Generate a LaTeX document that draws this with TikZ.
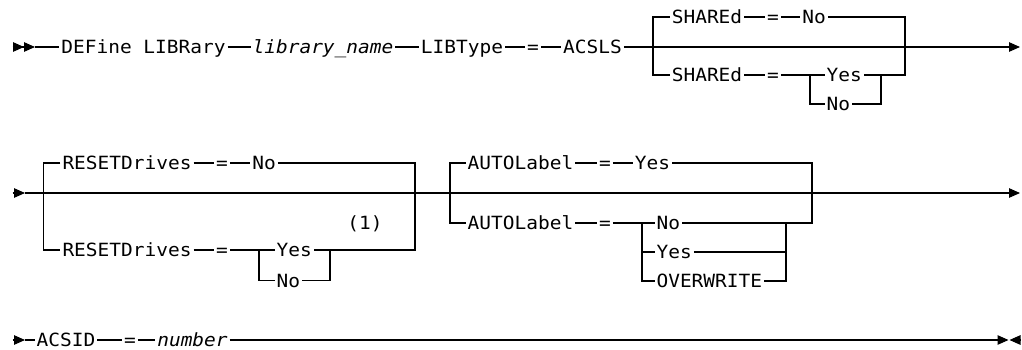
\documentclass[tikz,border=0pt]{standalone}
\usepackage{fontspec}
\newfontfamily\rrfont{DejaVu Sans Mono}[FakeStretch=1.07]
\usetikzlibrary{arrows.meta, positioning}

\tikzset{
  kw/.style={font=\rrfont\fontsize{18.2pt}{20pt}\selectfont, inner xsep=1.5pt, inner ysep=0pt, text height=13.3pt, text depth=0pt},
  var/.style={kw, font=\rrfont\itshape\fontsize{18.2pt}{20pt}\selectfont},
  rail/.style={line width=1.1pt},
  tip/.style={-{Triangle[length=11pt,width=9.5pt]}},
}

\begin{document}
\begin{tikzpicture}[x=1pt, y=-1pt, rail]
    \useasboundingbox (0,0) rectangle (1022,349);

    % First line
    \coordinate (aIn) at (12.5,47);
    \coordinate (aHead) at (35,47);
    \coordinate (aOut) at (1020,47);
    \node[kw] (define) at (143.5,47) {DEFine LIBRary};
    \node[var] (libname) at (323,47) {library\_name};
    \node[kw] (libtype) at (462,47) {LIBType};
    \node[kw] (eqType) at (533,47) {=};
    \node[kw] (acsls) at (592.5,47) {ACSLS};

    % SHAREd choice
    \coordinate (shTL) at (653,17);
    \coordinate (shBL) at (653,75);
    \coordinate (shTR) at (905,17);
    \coordinate (shBR) at (905,75);
    \node[kw] (sharedA) at (707,17) {SHAREd};
    \node[kw] (eqShA) at (773,17) {=};
    \node[kw] (shNo) at (814,17) {No};
    \node[kw] (sharedB) at (707,75) {SHAREd};
    \node[kw] (eqShB) at (773,75) {=};
    \coordinate (shIL) at (810,75);
    \coordinate (shILb) at (810,104);
    \coordinate (shIR) at (881,75);
    \coordinate (shIRb) at (881,104);
    \node[kw, anchor=west] (shYes) at (824.5,75) {Yes};
    \node[kw, anchor=west] (shNoB) at (824.5,104) {No};

    \draw[-{Triangle[length=11pt,width=9.5pt] Triangle[length=11pt,width=9.5pt]}] (aIn) -- (aHead);
    \draw (aHead) -- (define) -- (libname) -- (libtype) -- (eqType) -- (acsls);
    \draw[tip] (acsls) -- (aOut);
    \draw (sharedA) -- (shTL) -- (shBL) -- (sharedB);
    \draw (sharedA) -- (eqShA) -- (shNo) -- (shTR) -- (shBR) -- (shIR) -- (shYes);
    \draw (sharedB) -- (eqShB) -- (shIL) -- (shYes);
    \draw (shIL) -- (shILb) -- (shNoB) -- (shIRb) -- (shIR);

    % Second line
    \coordinate (bIn) at (12.5,193);
    \coordinate (bHead) at (25,193);
    \coordinate (bOut) at (1020,193);

    % RESETDrives choice
    \coordinate (rsTL) at (43.3,163);
    \coordinate (rsBL) at (43.3,250);
    \coordinate (rsTR) at (415,163);
    \coordinate (rsBR) at (415,250);
    \node[kw] (resetA) at (127,163) {RESETDrives};
    \node[kw] (eqRsA) at (222,163) {=};
    \node[kw] (rsNo) at (264,163) {No};
    \node[kw] (resetB) at (127,250) {RESETDrives};
    \node[kw] (eqRsB) at (222,250) {=};
    \coordinate (rsIL) at (259,250);
    \coordinate (rsILb) at (259,280.7);
    \coordinate (rsIR) at (330,250);
    \coordinate (rsIRb) at (330,280.7);
    \node[kw, anchor=west] (rsYes) at (274.5,250) {Yes};
    \node[kw, anchor=west] (rsNoB) at (274.5,280.7) {No};
    \node[kw] (note) at (365,223) {(1)};

    % AUTOLabel choice
    \coordinate (alTL) at (450,163);
    \coordinate (alBL) at (450,223);
    \coordinate (alTR) at (812,163);
    \coordinate (alBR) at (812,223);
    \node[kw] (autoA) at (520.5,163) {AUTOLabel};
    \node[kw] (eqAlA) at (605,163) {=};
    \node[kw] (alYes) at (652.5,163) {Yes};
    \node[kw] (autoB) at (520.5,223) {AUTOLabel};
    \node[kw] (eqAlB) at (605,223) {=};
    \coordinate (alIL) at (642,223);
    \coordinate (alIM) at (642,252);
    \coordinate (alILb) at (642,281);
    \coordinate (alIR) at (786,223);
    \coordinate (alIMr) at (786,252);
    \coordinate (alIRb) at (786,281);
    \node[kw, anchor=west] (alNo) at (654.5,223) {No};
    \node[kw, anchor=west] (alYesB) at (654.5,252) {Yes};
    \node[kw, anchor=west] (alOver) at (654.5,281) {OVERWRITE};

    \draw[tip] (bIn) -- (bHead);
    \draw[tip] (bHead) -- (bOut);
    \draw (resetA) -- (rsTL) -- (rsBL) -- (resetB);
    \draw (resetA) -- (eqRsA) -- (rsNo) -- (rsTR) -- (rsBR) -- (rsIR) -- (rsYes);
    \draw (resetB) -- (eqRsB) -- (rsIL) -- (rsYes);
    \draw (rsIL) -- (rsILb) -- (rsNoB) -- (rsIRb) -- (rsIR);
    \draw (autoA) -- (alTL) -- (alBL) -- (autoB);
    \draw (autoA) -- (eqAlA) -- (alYes) -- (alTR) -- (alBR) -- (alIR) -- (alNo);
    \draw (autoB) -- (eqAlB) -- (alIL) -- (alNo);
    \draw (alIL) -- (alILb) -- (alOver) -- (alIRb) -- (alIR);
    \draw (alIM) -- (alYesB) -- (alIMr);

    % Third line
    \coordinate (cIn) at (12.5,340);
    \coordinate (cHead) at (25,340);
    \coordinate (cEnd) at (1008.5,340);
    \coordinate (cStop) at (1009.5,340);
    \coordinate (cOut) at (1020.5,340);
    \node[kw] (acsid) at (66,340) {ACSID};
    \node[kw] (eqId) at (130,340) {=};
    \node[var] (number) at (192.5,340) {number};

    \draw[tip] (cIn) -- (cHead);
    \draw (cHead) -- (acsid) -- (eqId) -- (number);
    \draw[tip] (number) -- (cEnd);
    \draw[{Triangle[length=11pt,width=9.5pt]}-] (cStop) -- (cOut);
\end{tikzpicture}
\end{document}
